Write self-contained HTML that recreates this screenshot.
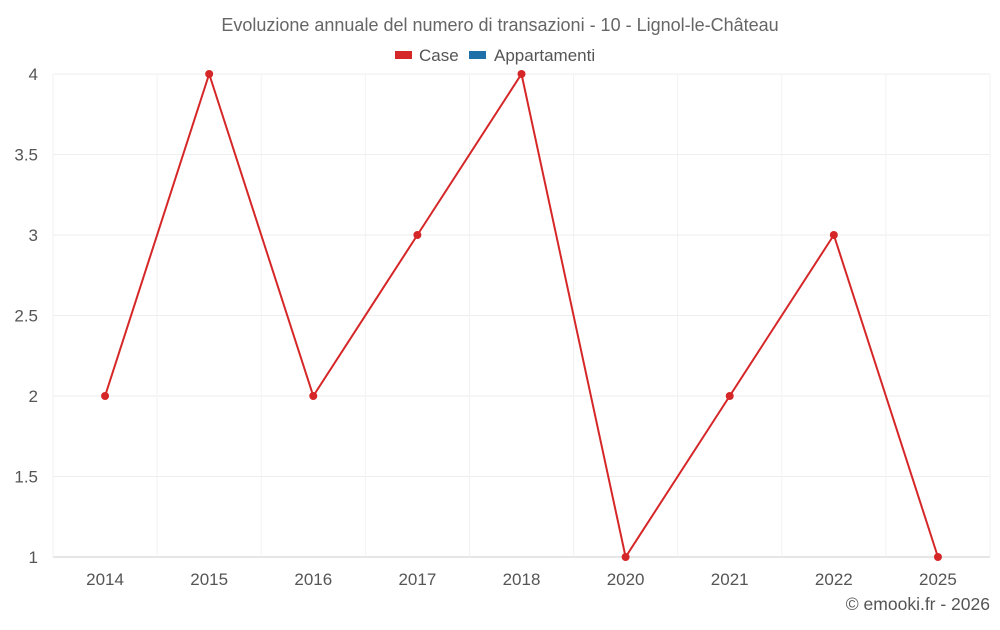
<!DOCTYPE html>
<html><head><meta charset="utf-8"><style>
body{margin:0;background:#fff;font-family:"Liberation Sans",sans-serif;}
svg text{font-family:"Liberation Sans",sans-serif;}
</style></head><body>
<svg id="c" width="1000" height="625">
<text x="500" y="31" text-anchor="middle" font-size="18" fill="#666">Evoluzione annuale del numero di transazioni - 10 - Lignol-le-Château</text>
<g>
<g><rect x="395" y="51" width="17" height="8" fill="#d62728"/><text x="419" y="61" font-size="17" fill="#555">Case</text></g>
<g><rect x="469" y="51" width="17" height="8" fill="#1f6fa8"/><text x="494" y="61" font-size="17" fill="#555">Appartamenti</text></g>
</g>
<g id="grid"></g><g id="axes"></g><g id="series"></g>
<text x="990" y="610" text-anchor="end" font-size="17.5" fill="#555">© emooki.fr - 2026</text>
</svg>
<script>
const categories=["2014","2015","2016","2017","2018","2020","2021","2022","2025"];
const caseValues=[2,4,2,3,4,1,2,3,1];
const yTicks=[1,1.5,2,2.5,3,3.5,4];
const yTickLabels=["1","1.5","2","2.5","3","3.5","4"];
const NS="http://www.w3.org/2000/svg";
const L=53,R=990,T=74,B=557,yMin=1,yMax=4;
const bw=(R-L)/categories.length;
const x=i=>L+bw*(i+0.5);
const y=v=>B-(v-yMin)/(yMax-yMin)*(B-T);
function mk(t,a,p){const e=document.createElementNS(NS,t);for(const k in a)e.setAttribute(k,a[k]);p.appendChild(e);return e;}
const g=document.getElementById('grid'),ax=document.getElementById('axes'),s=document.getElementById('series');
yTicks.forEach((v,i)=>{
 const l=mk('line',{x1:L,x2:R,y1:y(v),y2:y(v),stroke:i==0?'#ccc':'#eeeeee','stroke-width':1},g);
 
 
 const t=mk('text',{x:38,y:y(v)+6,'text-anchor':'end','font-size':17,fill:'#555'},ax);
 t.textContent=yTickLabels[i];
 
 
});
for(let i=0;i<=categories.length;i++){
 const l=mk('line',{x1:L+bw*i,x2:L+bw*i,y1:T,y2:B,stroke:'#f2f2f2','stroke-width':1},g);
 
 
}
categories.forEach((c,i)=>{
 const t=mk('text',{x:x(i),y:585,'text-anchor':'middle','font-size':17,fill:'#555'},ax);
 t.textContent=c;
 
 
});
const p=mk('polyline',{points:caseValues.map((v,i)=>x(i)+','+y(v)).join(' '),fill:'none',stroke:'#d62728','stroke-width':2},s);


caseValues.forEach((v,i)=>{
 const c=mk('circle',{cx:x(i),cy:y(v),r:4,fill:'#d62728'},s);
 
 
});
</script>
</body></html>
